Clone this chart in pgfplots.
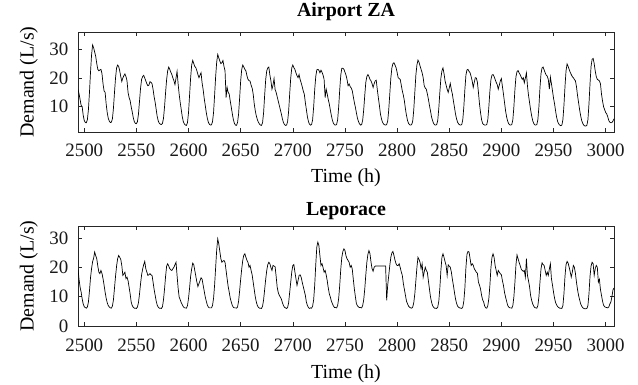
\documentclass[border=0pt]{standalone}
\usepackage{fontspec}
\setmainfont{Liberation Serif}
\usepackage{pgfplots}
\pgfplotsset{compat=1.18}
\pgfplotsset{
  demandax/.style={
    scale only axis, width=536bp, height=100bp,
    xmin=2494, xmax=3008,
    xtick={2500,2550,...,3000},
    tick align=inside, tick pos=both,
    major tick length=4bp,
    scaled x ticks=false, scaled y ticks=false,
    axis line style={line width=0.6bp, black!85},
    every tick/.style={line width=0.6bp, black!85},
    /pgf/number format/1000 sep={},
    /pgf/number format/assume math mode=true,
    ticklabel style={font=\fontsize{19}{19}\selectfont, text=black!90},
    yticklabel style={anchor=east, inner sep=0pt, xshift=-9.4bp},
    ylabel={Demand (L/s)},
    xlabel={Time (h)},
    label style={font=\fontsize{20}{20}\selectfont},
    ylabel style={at={(axis description cs:-0.0828,0.5)}, anchor=base, rotate=0},
    title style={font=\bfseries\fontsize{20}{20}\selectfont, anchor=base},
  }
}
\begin{document}
\begin{tikzpicture}
\useasboundingbox (0,0) rectangle (638bp,385bp);
\begin{axis}[demandax,
  at={(78bp,253bp)}, anchor=south west,
  ymin=1.2, ymax=36, ytick={10,20,30},
  title={Airport ZA},
  title style={at={(axis description cs:0.5,1.093)}},
  xlabel style={at={(axis description cs:0.5,-0.51)}, anchor=base},
  xticklabel style={anchor=base, yshift=-24.7bp},
]
\addplot[black, line width=0.7bp, mark=none] coordinates {
(2494,16)(2495,14.5)(2496,12.5)(2497,10.5)(2498,10)(2499,7)(2500,5.2)
(2501,4.5)(2502,4.4)(2503,5.5)(2504,9)(2505,15)(2506,22)(2507,28)(2508,31.5)(2509,30.5)(2510,29)(2511,27.5)(2512,25)(2513,23)(2514,22.5)(2515,22.8)(2516,23)(2517,21.5)(2518,18)(2519,15.5)(2520,15)(2521,11)(2522,8)(2523,6)(2524,5)
(2525,4.5)(2526,4.6)(2527,5.8)(2528,9.5)(2529,15)(2530,20)(2531,23.5)(2532,24.5)(2533,24)(2534,22.5)(2535,20.5)(2536,18.8)(2537,20)(2538,20.8)(2539,21.4)(2540,20.5)(2541,19)(2542,15)(2543,13.2)(2544,12.1)(2545,10)(2546,8.2)(2547,6.2)(2548,4.8)
(2549,4.2)(2550,4.1)(2551,4.8)(2552,7.5)(2553,12)(2554,16.5)(2555,19.5)(2556,20.5)(2557,20.9)(2558,20)(2559,19)(2560,18)(2561,17.3)(2562,17.5)(2563,18.7)(2564,18.5)(2565,18)(2566,16)(2567,13.5)(2568,11.5)(2569,9)(2570,6.5)(2571,5)(2572,4.2)
(2573,3.9)(2574,3.8)(2575,4.2)(2576,6)(2577,10)(2578,15)(2579,19.5)(2580,22.5)(2581,23.8)(2582,23)(2583,22)(2584,21.2)(2585,20)(2586,19)(2587,17.7)(2588,20)(2589,22.3)(2590,18)(2591,14.4)(2592,11.5)(2593,9)(2594,6.5)(2595,4.8)(2596,4)
(2597,3.6)(2598,3.5)(2599,4.5)(2600,8)(2601,14)(2602,20)(2603,24.5)(2604,26.1)(2605,25)(2606,24)(2607,23.6)(2608,22.5)(2609,21.2)(2610,20.1)(2611,21)(2612,21.8)(2613,18.3)(2614,16)(2615,13)(2616,10.5)(2617,8)(2618,6)(2619,4.6)(2620,3.9)
(2621,3.6)(2622,3.7)(2623,4.8)(2624,8)(2625,14)(2626,20.5)(2627,25.5)(2628,28.2)(2629,27)(2630,25.9)(2631,25)(2632,25.3)(2633,26.1)(2634,24)(2635,22.5)(2636,13.2)(2637,16.7)(2638,15)(2639,14.4)(2640,12)(2641,9.8)(2642,7.5)(2643,5.5)(2644,4.2)
(2645,3.6)(2646,3.5)(2647,4.5)(2648,7.5)(2649,13)(2650,19)(2651,23)(2652,24.5)(2653,23.8)(2654,23)(2655,22.5)(2656,20.8)(2657,19.5)(2658,19.1)(2659,18.9)(2660,17.5)(2661,16.5)(2662,14.4)(2663,11)(2664,8.6)(2665,6.8)(2666,5.5)(2667,4.6)(2668,4)
(2669,3.6)(2670,3.5)(2671,4.5)(2672,8)(2673,14)(2674,19.5)(2675,22.5)(2676,23.5)(2677,23.8)(2678,21)(2679,19)(2680,16.1)(2681,17.5)(2682,19.8)(2683,16)(2684,15)(2685,13.5)(2686,12)(2687,10.5)(2688,9)(2689,7.5)(2690,5.8)(2691,4.5)(2692,3.8)
(2693,3.5)(2694,3.6)(2695,4.8)(2696,8.5)(2697,14.5)(2698,20)(2699,23.5)(2700,24.5)(2701,23.6)(2702,23)(2703,21.8)(2704,20.8)(2705,20.1)(2706,21.2)(2707,19.5)(2708,18.3)(2709,17)(2710,15.5)(2711,14.4)(2712,11.5)(2713,9)(2714,6.5)(2715,4.8)(2716,3.9)
(2717,3.6)(2718,3.8)(2719,5.5)(2720,10)(2721,16)(2722,20.5)(2723,22.8)(2724,23)(2725,22.7)(2726,21.8)(2727,22.7)(2728,22)(2729,21)(2730,19.5)(2731,13.2)(2732,16.1)(2733,14.4)(2734,12.5)(2735,10.9)(2736,8.8)(2737,6.9)(2738,5.2)(2739,4.2)(2740,3.7)
(2741,3.6)(2742,3.8)(2743,5.5)(2744,10)(2745,16)(2746,21)(2747,23.4)(2748,23.4)(2749,23)(2750,22)(2751,21)(2752,19.5)(2753,17.3)(2754,17.9)(2755,17)(2756,16.5)(2757,15.6)(2758,13.5)(2759,11.5)(2760,9.8)(2761,7.8)(2762,6)(2763,4.8)(2764,4)
(2765,3.6)(2766,3.8)(2767,5.3)(2768,9)(2769,14)(2770,18.5)(2771,20.5)(2772,21.2)(2773,20.5)(2774,19.5)(2775,19)(2776,18)(2777,16.7)(2778,18)(2779,19)(2780,19.2)(2781,16)(2782,13.2)(2783,10.5)(2784,7.5)(2785,5.8)(2786,4.6)(2787,4)(2788,3.7)
(2789,3.6)(2790,3.8)(2791,5)(2792,9)(2793,14.5)(2794,20)(2795,23.5)(2796,25)(2797,25.3)(2798,24.5)(2799,23.6)(2800,22)(2801,20.1)(2802,19.8)(2803,19.5)(2804,17.5)(2805,15.5)(2806,14)(2807,12)(2808,9.2)(2809,7)(2810,5.2)(2811,4.2)(2812,3.7)
(2813,3.6)(2814,3.8)(2815,5)(2816,9)(2817,15)(2818,21)(2819,24.5)(2820,26.2)(2821,25.5)(2822,24.2)(2823,23)(2824,21.8)(2825,20.1)(2826,17.3)(2827,16.5)(2828,16.1)(2829,14.5)(2830,12.7)(2831,10.5)(2832,8.6)(2833,6.5)(2834,5.2)(2835,4.2)(2836,3.7)
(2837,3.6)(2838,3.8)(2839,5.3)(2840,9.5)(2841,15)(2842,20)(2843,22.5)(2844,23.5)(2845,21.5)(2846,19)(2847,17.5)(2848,16.1)(2849,15)(2850,16.5)(2851,18.1)(2852,16)(2853,14.4)(2854,12)(2855,9.8)(2856,7.5)(2857,5.8)(2858,4.6)(2859,4)(2860,3.7)
(2861,3.6)(2862,3.8)(2863,5.5)(2864,10)(2865,16)(2866,21)(2867,22.8)(2868,23)(2869,22.3)(2870,21.8)(2871,20.5)(2872,19)(2873,16.7)(2874,18.5)(2875,20.1)(2876,20)(2877,18.5)(2878,15)(2879,11)(2880,8)(2881,5.5)(2882,4.2)(2883,3.8)(2884,3.6)
(2885,3.6)(2886,3.8)(2887,5.5)(2888,10)(2889,15.5)(2890,19.5)(2891,21)(2892,21.2)(2893,20.5)(2894,19.5)(2895,18.5)(2896,17.7)(2897,16.1)(2898,17.5)(2899,19)(2900,19.8)(2901,17)(2902,14.4)(2903,11.5)(2904,8.6)(2905,6.5)(2906,5)(2907,4.1)(2908,3.7)
(2909,3.6)(2910,3.8)(2911,5.5)(2912,10)(2913,16)(2914,20.5)(2915,22.2)(2916,22.6)(2917,21.8)(2918,21.2)(2919,20.3)(2920,19.5)(2921,20.1)(2922,18.3)(2923,20)(2924,21.8)(2925,17.3)(2926,14)(2927,11.5)(2928,9)(2929,6.9)(2930,5.2)(2931,4.2)(2932,3.7)
(2933,3.6)(2934,3.8)(2935,5.5)(2936,10)(2937,16.5)(2938,21.5)(2939,23.5)(2940,23.8)(2941,22.8)(2942,21.8)(2943,21)(2944,20.6)(2945,19.5)(2946,16.1)(2947,20.3)(2948,18)(2949,15.6)(2950,13)(2951,11)(2952,8.5)(2953,6.3)(2954,4.8)(2955,4)(2956,3.6)
(2957,3.4)(2958,3.6)(2959,5.5)(2960,10.5)(2961,17)(2962,22.5)(2963,24.9)(2964,24)(2965,23)(2966,22)(2967,21.2)(2968,20.5)(2969,20.1)(2970,19.5)(2971,19)(2972,17)(2973,14)(2974,11.5)(2975,9)(2976,6.9)(2977,5.2)(2978,4.2)(2979,3.6)(2980,3.3)
(2981,3.3)(2982,3.5)(2983,5.5)(2984,11)(2985,18)(2986,24)(2987,26.5)(2988,26.8)(2989,25)(2990,22.4)(2991,20.5)(2992,19.5)(2993,19.3)(2994,19)(2995,18)(2996,14.4)(2997,12)(2998,10)(2999,9)(3000,8)(3001,7.5)(3002,6.5)(3003,5.2)(3004,4.6)
(3005,4.4)(3006,4.5)(3007,5)(3008,5.8)
};
\end{axis}
\begin{axis}[demandax,
  at={(78bp,59bp)}, anchor=south west,
  ymin=0, ymax=34.2, ytick={0,10,20,30},
  title={Leporace},
  title style={at={(axis description cs:0.5,1.05)}},
  xlabel style={at={(axis description cs:0.5,-0.525)}, anchor=base},
  xticklabel style={anchor=base, yshift=-25.7bp},
]
\addplot[black, line width=0.7bp, mark=none] coordinates {
(2494,19.5)(2495,16)(2496,13.3)(2497,11.6)(2498,9.3)(2499,7.5)(2500,6.6)
(2501,6.3)(2502,6.1)(2503,6.5)(2504,8.2)(2505,12)(2506,16.5)(2507,19.6)(2508,22)(2509,23.2)(2510,25.3)(2511,24)(2512,23)(2513,20.5)(2514,18.4)(2515,17.9)(2516,19)(2517,18)(2518,16.2)(2519,14)(2520,11.6)(2521,9.5)(2522,8)(2523,7)(2524,6.5)
(2525,6.2)(2526,6.1)(2527,6.8)(2528,9)(2529,13)(2530,17)(2531,20.5)(2532,23)(2533,24.1)(2534,23.5)(2535,22.8)(2536,20.7)(2537,17.3)(2538,17.8)(2539,18.4)(2540,16.2)(2541,16.7)(2542,15.5)(2543,13.3)(2544,11)(2545,8.2)(2546,7)(2547,6.4)(2548,6.1)
(2549,6.1)(2550,6)(2551,6.5)(2552,8)(2553,11)(2554,14.5)(2555,17.5)(2556,19.5)(2557,21)(2558,22.1)(2559,19.6)(2560,18.5)(2561,17.3)(2562,17.5)(2563,17.9)(2564,17.5)(2565,17.3)(2566,15)(2567,12.5)(2568,10.5)(2569,8.5)(2570,7.1)(2571,6.4)(2572,6.1)
(2573,6.1)(2574,6)(2575,6.6)(2576,9)(2577,12.7)(2578,17)(2579,20.5)(2580,21.3)(2581,20.5)(2582,19.6)(2583,19.2)(2584,19)(2585,19.6)(2586,20.1)(2587,21)(2588,21.8)(2589,17.3)(2590,13)(2591,9.9)(2592,9)(2593,8)(2594,7.3)(2595,6.6)(2596,6.2)
(2597,6.2)(2598,6.1)(2599,7)(2600,9.5)(2601,13)(2602,17)(2603,19.5)(2604,21.5)(2605,21)(2606,19)(2607,17)(2608,15)(2609,13.5)(2610,14.5)(2611,15.5)(2612,16.5)(2613,16)(2614,14)(2615,12)(2616,10)(2617,8.5)(2618,7.2)(2619,6.5)(2620,6.2)
(2621,6.2)(2622,6.2)(2623,7)(2624,9.5)(2625,14)(2626,20)(2627,26)(2628,29.8)(2629,28.1)(2630,25.5)(2631,23)(2632,21.8)(2633,22.2)(2634,22.4)(2635,21.8)(2636,19)(2637,16.2)(2638,13.5)(2639,11.6)(2640,9.5)(2641,8.2)(2642,7)(2643,6.4)(2644,6.2)
(2645,6.2)(2646,6.1)(2647,6.5)(2648,8.5)(2649,12)(2650,16)(2651,19.5)(2652,22.5)(2653,24.2)(2654,24.7)(2655,23.5)(2656,22.5)(2657,21.8)(2658,20.1)(2659,20.7)(2660,19)(2661,17.5)(2662,15)(2663,12.5)(2664,10)(2665,8.2)(2666,7)(2667,6.4)(2668,6.1)
(2669,6.1)(2670,6)(2671,6.8)(2672,9)(2673,12.5)(2674,16)(2675,19)(2676,21)(2677,21.8)(2678,21.3)(2679,20)(2680,19)(2681,20.7)(2682,20.5)(2683,20.3)(2684,17)(2685,13.3)(2686,11.5)(2687,10.5)(2688,9.9)(2689,9.2)(2690,8)(2691,7)(2692,6.4)
(2693,6.2)(2694,6)(2695,6.3)(2696,8)(2697,11.5)(2698,15)(2699,18.5)(2700,20.7)(2701,21)(2702,18.5)(2703,16.2)(2704,13.9)(2705,15.5)(2706,17.3)(2707,17.5)(2708,16.7)(2709,15)(2710,13.5)(2711,12)(2712,10.5)(2713,8.2)(2714,7)(2715,6.3)(2716,6)
(2717,6.2)(2718,6.1)(2719,6.8)(2720,9)(2721,14)(2722,21)(2723,27)(2724,28.7)(2725,27.5)(2726,24)(2727,20.7)(2728,21.3)(2729,20)(2730,18.4)(2731,19)(2732,17.5)(2733,15.5)(2734,13)(2735,11)(2736,9.9)(2737,8.5)(2738,7.6)(2739,6.8)(2740,6.3)
(2741,6.3)(2742,6.2)(2743,7)(2744,9.5)(2745,14)(2746,19.5)(2747,23.5)(2748,25.5)(2749,26.4)(2750,25.8)(2751,24)(2752,23)(2753,22.4)(2754,21.8)(2755,20.1)(2756,20.7)(2757,19.5)(2758,16)(2759,12.7)(2760,10)(2761,7.6)(2762,6.9)(2763,6.5)(2764,6.3)
(2765,6.3)(2766,6.2)(2767,7)(2768,9)(2769,12.7)(2770,17.5)(2771,21.8)(2772,24.5)(2773,25.8)(2774,24.7)(2775,21.8)(2776,19.6)(2777,18.7)(2778,20.1)(2779,20.5)(2789,20.5)
(2790,8.8)(2791,14)(2792,17.3)(2793,20.7)(2794,23.5)(2795,25)(2796,25.5)(2797,24.1)(2798,22.5)(2799,21.3)(2800,20.7)(2801,20.7)(2802,21.3)(2803,20)(2804,18.5)(2805,17.3)(2806,14.5)(2807,12.5)(2808,10.5)(2809,8.5)(2810,7.6)(2811,6.8)(2812,6.4)
(2813,6.2)(2814,6.1)(2815,6.5)(2816,8)(2817,11)(2818,15.5)(2819,20)(2820,23.5)(2821,22.8)(2822,21.8)(2823,19.6)(2824,21.3)(2825,16.7)(2826,18.5)(2827,20.1)(2828,19)(2829,18.4)(2830,15.5)(2831,12.7)(2832,10)(2833,8.2)(2834,7)(2835,6.4)(2836,6.1)
(2837,6.1)(2838,6)(2839,6.5)(2840,8.5)(2841,13)(2842,19)(2843,23.5)(2844,24.7)(2845,23.5)(2846,22)(2847,20.7)(2848,17.3)(2849,20.9)(2850,20.5)(2851,20.1)(2852,18.5)(2853,16)(2854,13.9)(2855,11.5)(2856,9.3)(2857,7.8)(2858,6.8)(2859,6.4)(2860,6.2)
(2861,6.1)(2862,6)(2863,6.5)(2864,8.5)(2865,13)(2866,20)(2867,24.5)(2868,25.5)(2869,25.3)(2870,23)(2871,20.7)(2872,21.3)(2873,20.8)(2874,19.6)(2875,19)(2876,18.4)(2877,18)(2878,15)(2879,14)(2880,12.7)(2881,10.5)(2882,9)(2883,8.2)(2884,6.8)
(2885,6.2)(2886,6.1)(2887,7)(2888,9.5)(2889,14)(2890,20)(2891,23.5)(2892,24.7)(2893,23.5)(2894,20.7)(2895,19)(2896,17.3)(2897,19)(2898,18.4)(2899,17.9)(2900,17.5)(2901,15.5)(2902,13.9)(2903,11.5)(2904,9.9)(2905,8.5)(2906,7.1)(2907,6.5)(2908,6.2)
(2909,6.2)(2910,6.1)(2911,7)(2912,10)(2913,15)(2914,21)(2915,24.3)(2916,23)(2917,21.8)(2918,20.7)(2919,19.5)(2920,19)(2921,18.7)(2922,19)(2923,16.7)(2924,23)(2925,17.3)(2926,15.5)(2927,13.5)(2928,10.5)(2929,8.8)(2930,7.6)(2931,6.8)(2932,6.3)
(2933,6.2)(2934,6.1)(2935,7)(2936,10)(2937,15)(2938,19.5)(2939,21.6)(2940,21)(2941,20.7)(2942,19)(2943,17.3)(2944,18.4)(2945,17.3)(2946,19.5)(2947,21.3)(2948,16.2)(2949,14)(2950,11.6)(2951,9.5)(2952,8)(2953,7.2)(2954,6.6)(2955,6.3)(2956,6.1)
(2957,6.1)(2958,6)(2959,7)(2960,11)(2961,17)(2962,21)(2963,22.1)(2964,21.5)(2965,20.1)(2966,18.5)(2967,16.7)(2968,18.4)(2969,20.7)(2970,20.1)(2971,18)(2972,15)(2973,12.5)(2974,10.5)(2975,9)(2976,7.6)(2977,6.8)(2978,6.3)(2979,6)(2980,5.9)
(2981,5.9)(2982,6)(2983,7)(2984,11)(2985,17)(2986,20.5)(2987,21.8)(2988,21.3)(2989,17.3)(2990,19.6)(2991,20.7)(2992,20.1)(2993,15)(2994,16)(2995,12.5)(2996,10.5)(2997,8.5)(2998,7.1)(2999,6.6)(3000,6.4)(3001,6.3)(3002,6.2)(3003,6.5)(3004,7.5)
(3005,8.2)(3006,10)(3007,12.3)(3008,13)
};
\end{axis}
\end{tikzpicture}
\end{document}
